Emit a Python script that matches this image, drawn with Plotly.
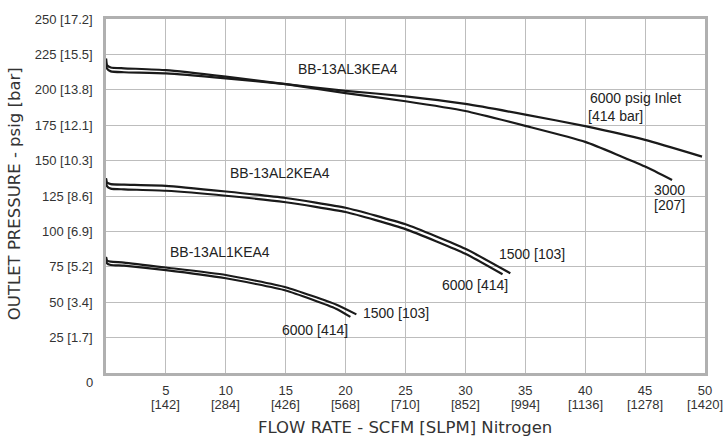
import plotly.graph_objects as go

# ---- Data (flow SCFM, outlet pressure psig) ----
al3_6000_flow = [0, 0.08, 0.4, 1.5, 5, 10, 15, 20, 25, 30, 35, 40, 45, 49.75]
al3_6000_psig = [222, 215, 213, 212.4, 211.6, 208.1, 204, 199.3, 195.4, 190, 182.5, 174.3, 164.6, 152.8]
al3_3000_flow = [0, 0.08, 0.4, 1.5, 5, 10, 15, 20, 25, 30, 35, 40, 45, 47.25]
al3_3000_psig = [222, 217.5, 215.8, 215.2, 213.9, 209.3, 204, 197.7, 191.9, 185, 174.5, 163.2, 145.8, 136.3]

al2_1500_flow = [0, 0.08, 0.4, 1.5, 5, 10, 15, 20, 25, 30, 33.75]
al2_1500_psig = [137.5, 134.5, 133.4, 133, 132.2, 128.2, 123.6, 116.7, 105, 87.7, 70.4]
al2_6000_flow = [0, 0.08, 0.4, 1.5, 5, 10, 15, 20, 25, 30, 33.1]
al2_6000_psig = [137.5, 132, 130.2, 129.7, 128.7, 125.2, 120.6, 113.7, 101.6, 84.2, 69.7]

al1_1500_flow = [0, 0.08, 0.4, 1.5, 5, 10, 15, 19.2, 20.9]
al1_1500_psig = [82, 79.5, 78.6, 78, 74.5, 69.2, 60.6, 48.4, 41.4]
al1_6000_flow = [0, 0.08, 0.4, 1.5, 5, 10, 15, 19.2, 20.4]
al1_6000_psig = [82, 77.5, 76.3, 75.8, 72.7, 66.9, 58.3, 45.4, 39.6]

x_tick_vals = [5, 10, 15, 20, 25, 30, 35, 40, 45, 50]
x_tick_text = ["5", "10", "15", "20", "25", "30", "35", "40", "45", "50"]
x_tick_slpm = ["[142]", "[284]", "[426]", "[568]", "[710]", "[852]", "[994]", "[1136]", "[1278]", "[1420]"]
y_tick_vals = [25, 50, 75, 100, 125, 150, 175, 200, 225, 250]
y_tick_text = ["25 [1.7]", "50 [3.4]", "75 [5.2]", "100 [6.9]", "125 [8.6]", "150 [10.3]",
               "175 [12.1]", "200 [13.8]", "225 [15.5]", "250 [17.2]"]

series = [
    (al3_6000_flow, al3_6000_psig), (al3_3000_flow, al3_3000_psig),
    (al2_1500_flow, al2_1500_psig), (al2_6000_flow, al2_6000_psig),
    (al1_1500_flow, al1_1500_psig), (al1_6000_flow, al1_6000_psig),
]

labels = [
    ("BB-13AL3KEA4", 15.9, 214.6),
    ("BB-13AL2KEA4", 10.2, 141.0),
    ("BB-13AL1KEA4", 5.2, 85.4),
    ("6000 psig Inlet", 40.2, 194.4),
    ("[414 bar]", 40.1, 181.3),
    ("3000", 45.6, 129.2),
    ("[207]", 45.6, 118.75),
    ("1500 [103]", 32.6, 84.0),
    ("6000 [414]", 27.9, 61.8),
    ("1500 [103]", 21.3, 42.4),
    ("6000 [414]", 14.5, 30.6),
]

TICKFONT = dict(family="Liberation Sans, Arial", size=13, color="#333")

fig = go.Figure()
for fx, fy in series:
    fig.add_trace(go.Scatter(x=fx, y=fy, mode="lines",
                             line=dict(color="#1a1a1a", width=2.2, shape="spline", smoothing=0.5),
                             showlegend=False, hoverinfo="skip"))

for txt, lx, ly in labels:
    fig.add_annotation(x=lx, y=ly, text=txt, showarrow=False, xanchor="left", yanchor="middle",
                       font=dict(family="Liberation Sans, Arial", size=14, color="#222"))

# second row of x tick labels (SLPM)
for v, t in zip(x_tick_vals, x_tick_slpm):
    fig.add_annotation(x=v, xref="x", yref="paper", y=(373 - 405) / 360, text=t,
                       showarrow=False, xanchor="center", yanchor="middle", font=TICKFONT)

fig.add_annotation(xref="paper", yref="paper", x=(89 - 106) / 600, y=(373 - 383) / 360,
                   text="0", showarrow=False, xanchor="center", yanchor="middle", font=TICKFONT)

fig.add_annotation(xref="paper", yref="paper", x=(405 - 106) / 600, y=-(428 - 373) / 360,
                   text="FLOW RATE - SCFM [SLPM] Nitrogen", showarrow=False,
                   xanchor="center", yanchor="middle",
                   font=dict(family="DejaVu Sans", size=16.5, color="#333"))
fig.add_annotation(xref="paper", yref="paper", x=-(106 - 14) / 600, y=(373 - 191) / 360,
                   text="OUTLET PRESSURE - psig [bar]", showarrow=False, textangle=-90,
                   xanchor="center", yanchor="middle",
                   font=dict(family="DejaVu Sans", size=16.5, color="#333"))

axis_common = dict(showline=True, mirror=True, linecolor="#b0b0b0", linewidth=2.5,
                   showgrid=True, gridcolor="#bdbdbd", gridwidth=1, zeroline=False,
                   ticks="", ticklabeloverflow="allow", tickfont=TICKFONT)

fig.update_xaxes(range=[0, 50], tickvals=x_tick_vals, ticktext=x_tick_text,
                 ticklabelstandoff=4, **axis_common)
fig.update_yaxes(range=[0, 250], tickvals=y_tick_vals, ticktext=y_tick_text,
                 ticklabelstandoff=8, **axis_common)

fig.update_layout(width=724, height=440, margin=dict(l=106, r=18, t=13, b=67),
                  paper_bgcolor="white", plot_bgcolor="white", autosize=False)

fig.write_html("out.html", config={"displayModeBar": False},
               post_script="document.body.style.margin='0';document.body.style.overflow='hidden';")
